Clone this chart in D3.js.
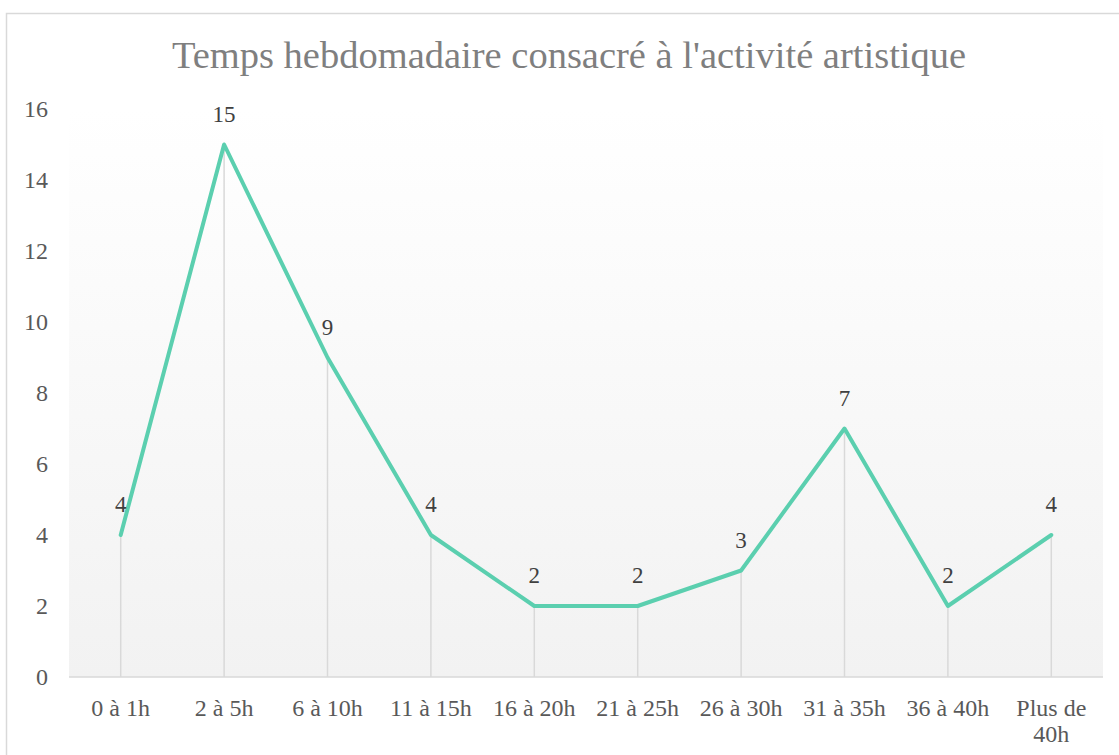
<!DOCTYPE html>
<html>
<head>
<meta charset="utf-8">
<script src="https://cdn.jsdelivr.net/npm/d3@7"></script>
<style>
  html, body { margin: 0; padding: 0; background: #ffffff; }
  svg { display: block; }
  text { font-family: "Liberation Serif", "Times New Roman", serif; }
</style>
</head>
<body>
<svg id="chart" width="1119" height="755"></svg>
<script>
const title = "Temps hebdomadaire consacré à l'activité artistique";
const categories = ["0 à 1h", "2 à 5h", "6 à 10h", "11 à 15h", "16 à 20h", "21 à 25h", "26 à 30h", "31 à 35h", "36 à 40h", "Plus de 40h"];
const values = [4, 15, 9, 4, 2, 2, 3, 7, 2, 4];
const yTicks = [0, 2, 4, 6, 8, 10, 12, 14, 16];

const W = 1119, H = 755;
const plot = { left: 69, right: 1103, top: 109, bottom: 677 };
const FONT = "'Liberation Serif', 'Times New Roman', serif";

const svg = d3.select("#chart");

// outer chart border
svg.append("rect")
  .attr("x", 6.5).attr("y", 13.5)
  .attr("width", W + 20).attr("height", H + 20)
  .attr("fill", "#ffffff").attr("stroke", "#d9d9d9").attr("stroke-width", 1.5);

// gradient for plot area
const defs = svg.append("defs");
const grad = defs.append("linearGradient").attr("id", "plotGrad")
  .attr("x1", 0).attr("y1", 0).attr("x2", 0).attr("y2", 1);
grad.append("stop").attr("offset", "0%").attr("stop-color", "#ffffff");
grad.append("stop").attr("offset", "100%").attr("stop-color", "#f2f2f2");

const x = d3.scaleBand().domain(categories).range([plot.left, plot.right]).padding(0);
const y = d3.scaleLinear().domain([0, 16]).range([plot.bottom, plot.top]);
const cx = d => x(d) + x.bandwidth() / 2;

svg.append("rect")
  .attr("x", plot.left).attr("y", plot.top)
  .attr("width", plot.right - plot.left).attr("height", plot.bottom - plot.top)
  .attr("fill", "url(#plotGrad)");

// title
svg.append("text")
  .attr("x", 569).attr("y", 68)
  .attr("text-anchor", "middle")
  .attr("font-size", 38.5)
  .attr("fill", "#7f7f7f")
  .style("font-family", FONT)
  .text(title);

// drop lines
svg.append("g").selectAll("line")
  .data(categories)
  .join("line")
  .attr("x1", d => cx(d)).attr("x2", d => cx(d))
  .attr("y1", (d, i) => y(values[i])).attr("y2", y(0))
  .attr("stroke", "#d9d9d9").attr("stroke-width", 1.5);

// y axis
const yAxis = svg.append("g")
  .attr("transform", `translate(${plot.left},0)`)
  .call(d3.axisLeft(y).tickValues(yTicks).tickSize(0).tickPadding(21));
yAxis.select(".domain").remove();
yAxis.selectAll("text")
  .attr("font-size", 24)
  .attr("fill", "#595959")
  .style("font-family", FONT);

// x axis baseline
svg.append("line")
  .attr("x1", plot.left).attr("x2", plot.right)
  .attr("y1", y(0)).attr("y2", y(0))
  .attr("stroke", "#d9d9d9").attr("stroke-width", 1.5);

// x axis labels
const xAxis = svg.append("g")
  .attr("transform", `translate(0,${plot.bottom})`)
  .call(d3.axisBottom(x).tickSize(0).tickPadding(22));
xAxis.select(".domain").remove();
xAxis.selectAll("text")
  .attr("font-size", 24)
  .attr("fill", "#595959")
  .style("font-family", FONT)
  .each(function () {
    const t = d3.select(this);
    if (this.getComputedTextLength() > x.bandwidth() - 4) {
      const words = t.text().split(" ");
      const yAttr = t.attr("y");
      t.text(null);
      let line = [];
      let tsp = t.append("tspan").attr("x", 0).attr("y", yAttr);
      words.forEach(w => {
        line.push(w);
        tsp.text(line.join(" "));
        if (tsp.node().getComputedTextLength() > x.bandwidth() - 4 && line.length > 1) {
          line.pop();
          tsp.text(line.join(" "));
          line = [w];
          tsp = t.append("tspan").attr("x", 0).attr("y", yAttr).text(w);
        }
      });
      t.selectAll("tspan").each(function (d, i) {
        d3.select(this).attr("dy", (0.71 + i * 1.1) + "em");
      });
    }
  });

// line
const lineGen = d3.line()
  .x((d, i) => cx(categories[i]))
  .y(d => y(d));
svg.append("path")
  .datum(values)
  .attr("d", lineGen)
  .attr("fill", "none")
  .attr("stroke", "#5bcfaf")
  .attr("stroke-width", 4)
  .attr("stroke-linejoin", "round")
  .attr("stroke-linecap", "round");

// data labels
svg.append("g").selectAll("text")
  .data(values)
  .join("text")
  .attr("x", (d, i) => cx(categories[i]))
  .attr("y", d => y(d) - 23)
  .attr("text-anchor", "middle")
  .attr("font-size", 23)
  .attr("fill", "#404040")
  .style("font-family", FONT)
  .text(d => d);
</script>
</body>
</html>
